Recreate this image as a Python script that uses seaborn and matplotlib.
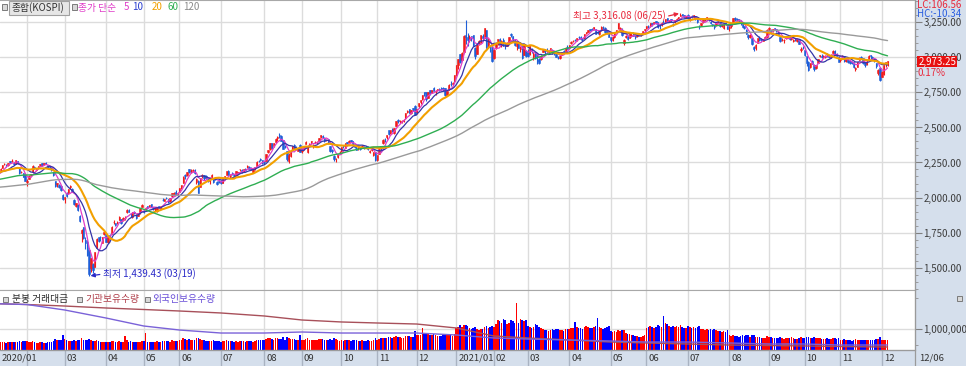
import numpy as np
import pandas as pd
import matplotlib
matplotlib.use("Agg")
import matplotlib.pyplot as plt
import matplotlib.patches as mpatches
import matplotlib.lines as mlines
import matplotlib.transforms as mtransforms
import seaborn as sns

# ---------------- DATA ----------------
# 2019 closes (Jun 20 - Dec 30, 2019) used only to warm up the moving averages
warmup_closes = [
    2131, 2125, 2121, 2122, 2134, 2130, 2130,
    2129, 2122, 2108, 2097, 2110, 2064, 2052, 2058, 2086, 2086, 2083, 2091, 2072, 2094, 2096, 2093, 2101, 2074, 2066, 2063, 2038, 2029, 2024,
    2017, 1998, 1946, 1917, 1909, 1920, 1943, 1925, 1938, 1927, 1948, 1960, 1964, 1955, 1948, 1916, 1948, 1936, 1951, 1967, 1967,
    1969, 1965, 1988, 2004, 2010, 2009, 2032, 2049, 2062, 2070, 2091, 2080, 2101, 2091, 2097, 2063, 2074, 2072, 2063,
    2031, 2020, 2047, 2046, 2045, 2082, 2084, 2068, 2077, 2083, 2061, 2085, 2088, 2091, 2094, 2093, 2080, 2092, 2083, 2086, 2083,
    2100, 2130, 2144, 2142, 2137, 2140, 2121, 2140, 2139, 2160, 2162, 2160, 2125, 2122, 2101, 2125, 2121, 2101, 2087, 2093, 2087,
    2084, 2068, 2060, 2081, 2085, 2099, 2105, 2137, 2170, 2168, 2165, 2196, 2203, 2195, 2190, 2204, 2197, 2197, 2204, 2197,
]

# daily sessions per month: (open, high, low, close, trading value in thousands)
k2020_01 = [(2201,2202,2171,2175,340),(2193,2203,2165,2176,380),(2154,2164,2149,2155,360),(2166,2181,2164,2176,330),(2163,2164,2137,2151,420),
            (2180,2193,2176,2186,390),(2197,2210,2192,2206,370),(2211,2230,2208,2229,360),(2237,2248,2234,2238,400),(2235,2237,2217,2230,350),
            (2232,2248,2227,2248,370),(2258,2262,2245,2250,360),(2260,2277,2255,2262,380),(2245,2251,2232,2239,400),(2236,2268,2236,2267,380),
            (2258,2260,2240,2246,390),(2213,2214,2165,2176,430),(2184,2190,2175,2185,390),(2172,2178,2143,2148,420),(2160,2166,2119,2119,410)]
k2020_02 = [(2112,2130,2085,2118,430),(2133,2160,2129,2157,400),(2161,2170,2150,2165,380),(2182,2229,2180,2227,410),(2216,2222,2205,2212,370),
            (2199,2205,2192,2201,340),(2208,2224,2207,2223,350),(2229,2240,2226,2238,360),(2244,2244,2226,2233,370),(2237,2245,2232,2243,350),
            (2246,2250,2237,2242,330),(2233,2235,2205,2208,380),(2215,2225,2207,2211,360),(2214,2218,2189,2195,390),(2182,2185,2150,2162,420),
            (2120,2120,2074,2079,520),(2096,2107,2077,2103,460),(2091,2095,2069,2076,480),(2082,2090,2048,2054,500),(2021,2024,1980,1987,720)]
k2020_03 = [(1987,2007,1958,2002,520),(2034,2038,2005,2014,480),(2031,2062,2023,2059,450),(2075,2089,2062,2085,430),(2064,2070,2036,2040,420),
            (1980,1988,1950,1954,480),(1940,1964,1935,1962,450),(1946,1955,1901,1908,470),(1867,1876,1822,1834,500),(1747,1775,1680,1771,560),
            (1786,1790,1701,1714,480),(1697,1720,1631,1672,500),(1685,1696,1580,1591,470),(1626,1627,1439.43,1457,530),(1498,1566,1466,1566,500),
            (1524,1532,1458,1482,430),(1505,1610,1502,1609,450),(1643,1711,1639,1704,480),(1716,1719,1681,1686,420),(1718,1726,1690,1717,400),
            (1678,1717,1675,1717,380),(1739,1763,1729,1754,390)]
k2020_04 = [(1737,1747,1684,1685,400),(1681,1724,1673,1724,390),(1731,1743,1718,1725,370),(1741,1793,1740,1791,420),(1822,1838,1810,1823,440),
            (1816,1818,1793,1807,400),(1823,1831,1808,1825,390),(1840,1866,1838,1860,410),(1847,1850,1813,1819,380),(1837,1858,1833,1857,400),
            (1853,1866,1838,1857,670),(1893,1915,1887,1914,480),(1912,1916,1896,1898,400),(1881,1888,1860,1879,420),(1861,1897,1855,1896,390),
            (1895,1904,1882,1889,380),(1878,1881,1848,1855,400),(1868,1892,1865,1889,370),(1897,1923,1882,1922,390),(1934,1954,1933,1947,410)]
k2020_05 = [(1906,1910,1886,1895,420),(1915,1929,1912,1928,810),(1939,1942,1920,1928,400),(1936,1947,1932,1945,380),(1951,1955,1931,1935,390),
            (1929,1932,1910,1922,400),(1918,1935,1907,1924,380),(1905,1930,1894,1924,420),(1939,1942,1922,1927,370),(1921,1938,1919,1937,380),
            (1983,1996,1975,1980,450),(1976,1991,1973,1989,420),(2000,2004,1991,1998,430),(1987,1988,1962,1970,410),(1976,1996,1970,1993,400),
            (2010,2032,2006,2029,460),(2028,2038,2015,2031,440),(2036,2056,2020,2028,450),(2026,2037,2008,2029,430)]
k2020_06 = [(2040,2067,2036,2065,460),(2072,2088,2063,2087,470),(2106,2150,2102,2147,560),(2162,2170,2132,2151,520),(2164,2183,2156,2181,500),
            (2200,2202,2172,2184,510),(2187,2205,2178,2188,470),(2187,2200,2181,2195,480),(2199,2203,2170,2176,490),(2108,2140,2098,2132,570),
            (2121,2126,2030,2030,560),(2077,2140,2077,2138,520),(2151,2166,2137,2161,480),(2158,2160,2128,2141,460),(2150,2162,2133,2141,450),
            (2132,2140,2112,2126,430),(2116,2131,2099,2131,440),(2143,2165,2142,2161,450),(2133,2140,2105,2112,470),(2136,2147,2125,2134,420),
            (2114,2117,2088,2093,450),(2117,2122,2101,2108,420)]
k2020_07 = [(2108,2123,2094,2106,400),(2106,2135,2103,2135,420),(2146,2155,2139,2152,410),(2163,2188,2162,2187,460),(2191,2195,2159,2164,440),
            (2155,2167,2142,2162,430),(2174,2180,2161,2167,410),(2160,2166,2145,2150,400),(2163,2189,2160,2186,420),(2178,2185,2168,2183,400),
            (2200,2207,2190,2201,450),(2196,2200,2176,2183,420),(2190,2203,2184,2201,410),(2204,2210,2190,2198,400),(2215,2230,2212,2228,440),
            (2221,2228,2203,2207,420),(2213,2215,2195,2200,410),(2181,2203,2176,2200,400),(2209,2220,2199,2217,430),(2224,2258,2222,2256,500),
            (2264,2268,2252,2263,480),(2276,2279,2258,2267,470),(2265,2270,2240,2249,460)]
k2020_08 = [(2259,2263,2240,2251,460),(2262,2313,2260,2311,520),(2323,2342,2315,2342,560),(2344,2386,2342,2386,570),(2386,2388,2343,2351,530),
            (2368,2388,2358,2386,500),(2394,2424,2388,2418,550),(2427,2438,2405,2432,560),(2448,2459,2425,2437,540),(2441,2443,2401,2407,520),
            (2410,2411,2345,2348,600),(2363,2376,2354,2360,500),(2329,2334,2261,2274,620),(2261,2321,2245,2304,560),(2297,2334,2286,2329,520),
            (2347,2369,2340,2369,540),(2378,2380,2346,2353,510),(2356,2370,2338,2344,500),(2334,2357,2329,2353,490),(2372,2379,2323,2326,720)]
k2020_09 = [(2330,2350,2321,2349,500),(2352,2365,2341,2364,480),(2383,2400,2381,2395,520),(2322,2370,2320,2368,560),(2378,2387,2369,2384,470),
            (2393,2402,2384,2401,480),(2366,2382,2356,2375,500),(2393,2406,2386,2396,490),(2393,2403,2384,2396,460),(2404,2428,2402,2427,520),
            (2434,2449,2425,2443,540),(2441,2445,2424,2435,510),(2425,2430,2398,2406,500),(2410,2420,2404,2412,470),(2418,2419,2382,2389,480),
            (2366,2368,2324,2333,540),(2340,2348,2317,2333,500),(2297,2302,2263,2272,560),(2274,2285,2254,2278,520),(2287,2311,2280,2308,480),
            (2325,2330,2315,2327,450)]
k2020_10 = [(2333,2358,2325,2358,460),(2372,2378,2356,2365,450),(2352,2389,2350,2386,480),(2394,2398,2380,2391,460),(2397,2409,2393,2403,480),
            (2410,2412,2394,2403,450),(2400,2405,2372,2380,470),(2382,2383,2355,2361,480),(2357,2369,2340,2341,470),(2351,2366,2340,2358,450),
            (2350,2360,2338,2347,440),(2355,2372,2352,2370,460),(2358,2366,2344,2355,450),(2362,2369,2353,2360,430),(2362,2365,2336,2343,460),
            (2328,2337,2317,2330,450),(2340,2350,2329,2345,440),(2302,2328,2294,2326,480),(2322,2322,2264,2267,560)]
k2020_11 = [(2267,2305,2263,2300,500),(2313,2343,2310,2343,520),(2370,2370,2329,2357,560),(2386,2415,2379,2413,580),(2418,2423,2398,2416,560),
            (2432,2449,2415,2447,570),(2479,2479,2447,2452,600),(2459,2485,2450,2485,610),(2492,2495,2469,2475,580),(2464,2497,2455,2494,600),
            (2514,2543,2508,2543,650),(2552,2563,2531,2545,620),(2545,2553,2534,2547,600),(2539,2552,2531,2547,580),(2544,2559,2541,2553,590),
            (2565,2602,2561,2602,680),(2610,2626,2600,2617,690),(2633,2635,2600,2601,650),(2601,2626,2596,2625,640),(2637,2640,2615,2633,630),
            (2651,2661,2591,2591,900)]
k2020_12 = [(2612,2635,2598,2634,700),(2651,2675,2636,2675,720),(2681,2697,2665,2696,700),(2701,2731,2693,2731,1050),(2750,2752,2727,2745,760),
            (2751,2754,2690,2700,780),(2714,2755,2712,2755,760),(2767,2769,2731,2746,730),(2752,2771,2744,2770,720),(2781,2790,2762,2762,740),
            (2755,2768,2734,2756,700),(2768,2776,2757,2772,690),(2775,2784,2759,2771,680),(2781,2787,2765,2772,680),(2782,2787,2762,2778,700),
            (2779,2782,2726,2733,740),(2729,2762,2722,2759,720),(2770,2812,2766,2806,760),(2812,2834,2794,2808,720),(2812,2824,2801,2820,690),
            (2830,2878,2828,2873,760)]
k2021_01 = [(2874,2946,2869,2944,1050),(2943,2990,2921,2990,1100),(3027,3027,2961,2968,1190),(2980,3036,2979,3031,1100),(3040,3161,3040,3152,1190),
            (3161,3266,3096,3148,1190),(3145,3175,3085,3125,1150),(3128,3162,3111,3148,1050),(3150,3154,3121,3149,1000),(3158,3162,3085,3085,1050),
            (3070,3072,2988,3013,1100),(3028,3096,3022,3092,1000),(3101,3122,3091,3114,950),(3134,3160,3106,3160,1000),(3153,3165,3128,3140,980),
            (3140,3209,3136,3208,1100),(3193,3194,3067,3069,1150),(3089,3136,3072,3122,1050),(3072,3083,3042,3069,1100),(3063,3079,2969,2976,1150)]
k2021_02 = [(2996,3059,2988,3056,1100),(3075,3105,3058,3096,1250),(3117,3129,3090,3129,1430),(3133,3136,3081,3087,1380),(3094,3125,3074,3120,1300),
            (3128,3138,3081,3091,1480),(3099,3106,3063,3084,1430),(3085,3107,3080,3100,1250),(3113,3147,3107,3147,1300),(3165,3175,3144,3163,1430),
            (3150,3152,3120,3133,1380),(3128,3130,3084,3086,1300),(3079,3110,3056,3107,2240),(3109,3112,3067,3070,1300),(3061,3083,3039,3070,1480),
            (3080,3083,2988,2995,1430),(3020,3099,3016,3099,1400),(3044,3051,3003,3013,1430)]
k2021_03 = [(3043,3063,3003,3012,1150),(3022,3082,3014,3082,1100),(3058,3067,3029,3043,1050),(3006,3037,2985,3026,1100),(3036,3042,2992,2996,1240),
            (2984,3024,2950,2976,1190),(2992,2994,2950,2958,1100),(2987,3014,2980,3013,1050),(3040,3060,3038,3054,1000),(3051,3057,3028,3045,950),
            (3051,3067,3040,3048,950),(3040,3048,3031,3047,900),(3062,3068,3052,3066,950),(3055,3059,3025,3039,1000),(3040,3048,3020,3035,950),
            (3037,3045,3004,3004,1000),(2997,3013,2992,2996,1000),(2994,3019,2988,3008,950),(3018,3042,3017,3041,950),(3043,3052,3030,3036,900),
            (3040,3072,3033,3071,1000),(3073,3087,3058,3061,1000)]
k2021_04 = [(3067,3087,3062,3087,1000),(3101,3114,3094,3112,1050),(3116,3126,3107,3120,1050),(3128,3130,3114,3127,1330),(3128,3140,3120,3137,1100),
            (3147,3153,3131,3143,1050),(3146,3153,3125,3131,1050),(3136,3140,3115,3135,1000),(3137,3170,3135,3169,1100),(3173,3183,3165,3182,1150),
            (3185,3197,3180,3194,1100),(3201,3205,3188,3198,1050),(3206,3212,3195,3198,1050),(3200,3220,3195,3220,1100),(3203,3206,3166,3171,1150),
            (3182,3188,3165,3177,1520),(3164,3190,3161,3186,1100),(3196,3221,3192,3217,1050),(3220,3226,3206,3215,1000),(3211,3216,3175,3181,1050),
            (3194,3195,3168,3174,1100),(3168,3175,3147,3147,1150)]
k2021_05 = [(3146,3149,3111,3127,900),(3125,3150,3118,3147,850),(3146,3178,3140,3178,900),(3189,3197,3180,3197,850),(3211,3249,3206,3249,950),
            (3204,3215,3188,3209,900),(3198,3207,3151,3161,950),(3104,3134,3091,3122,950),(3145,3160,3136,3153,800),(3155,3159,3124,3134,750),
            (3141,3178,3136,3173,750),(3154,3172,3143,3162,700),(3176,3180,3150,3156,700),(3154,3161,3131,3144,650),(3152,3167,3144,3163,650),
            (3171,3174,3158,3165,620),(3164,3175,3152,3165,620),(3175,3192,3170,3188,650),(3199,3204,3182,3204,700)]
k2021_06 = [(3213,3226,3203,3221,1050),(3226,3229,3207,3224,1100),(3226,3249,3219,3248,1150),(3245,3248,3228,3240,1100),(3247,3256,3237,3253,1050),
            (3257,3259,3236,3247,1100),(3254,3256,3211,3216,1200),(3226,3236,3204,3224,1150),(3234,3250,3228,3249,1100),(3255,3268,3248,3252,1620),
            (3254,3278,3250,3278,1300),(3280,3283,3255,3264,1250),(3255,3268,3252,3264,1150),(3273,3276,3256,3267,1100),(3241,3248,3225,3240,1150),
            (3250,3266,3247,3264,1100),(3269,3284,3264,3276,1150),(3281,3292,3276,3286,1100),(3298,3316.08,3295,3302,1200),(3310,3313,3294,3301,1100),
            (3300,3304,3281,3286,1050),(3289,3298,3283,3296,1050)]
k2021_07 = [(3305,3307,3276,3282,1150),(3272,3284,3262,3281,1100),(3297,3300,3280,3294,1050),(3292,3305,3284,3305,1100),(3293,3297,3270,3285,1050),
            (3289,3290,3243,3252,1100),(3219,3232,3204,3217,1150),(3231,3249,3223,3246,1000),(3253,3275,3249,3271,1000),(3264,3275,3258,3265,950),
            (3271,3290,3266,3286,1000),(3279,3280,3262,3276,950),(3255,3263,3236,3244,1000),(3239,3240,3222,3232,950),(3233,3237,3205,3216,1000),
            (3230,3254,3225,3250,950),(3250,3262,3244,3254,900),(3244,3247,3219,3224,900),(3226,3237,3220,3233,850),(3213,3238,3202,3237,900),
            (3249,3256,3232,3242,850),(3225,3228,3200,3202,950)]
k2021_08 = [(3209,3225,3191,3223,700),(3225,3237,3213,3237,650),(3245,3281,3240,3280,720),(3285,3288,3262,3276,680),(3275,3285,3262,3270,650),
            (3272,3275,3251,3260,620),(3263,3268,3235,3243,650),(3243,3245,3210,3220,700),(3221,3228,3200,3208,680),(3199,3203,3166,3171,720),
            (3157,3165,3130,3143,700),(3146,3168,3140,3158,620),(3138,3140,3089,3097,720),(3076,3083,3044,3060,720),(3067,3093,3056,3090,600),
            (3102,3140,3100,3138,620),(3142,3150,3118,3128,600),(3133,3138,3118,3128,580),(3120,3135,3115,3133,560),(3141,3150,3133,3144,580),
            (3146,3200,3140,3199,680)]
k2021_09 = [(3206,3214,3192,3207,620),(3199,3204,3167,3175,600),(3188,3203,3183,3201,580),(3210,3212,3193,3203,550),(3203,3206,3180,3187,560),
            (3180,3188,3159,3162,580),(3144,3146,3108,3114,620),(3125,3137,3118,3127,560),(3122,3134,3104,3127,540),(3141,3153,3131,3148,560),
            (3152,3162,3143,3153,580),(3157,3159,3125,3130,560),(3131,3145,3126,3140,620),(3114,3129,3110,3127,560),(3129,3138,3119,3125,540),
            (3115,3140,3107,3133,540),(3130,3133,3096,3097,580),(3050,3075,3040,3060,620),(3070,3082,3059,3068,560)]
k2021_10 = [(3053,3055,3013,3019,580),(3008,3010,2940,2962,620),(2968,2978,2900,2908,620),(2930,2960,2925,2959,580),(2978,2983,2950,2956,560),
            (2945,2950,2902,2916,600),(2923,2944,2917,2944,560),(2963,2989,2960,2988,560),(3008,3019,3001,3015,580),(3011,3022,2994,3006,540),
            (3004,3020,2998,3013,540),(3005,3017,2996,3013,520),(3022,3034,3003,3007,560),(3008,3017,2998,3006,520),(3005,3024,2998,3020,540),
            (3033,3050,3031,3049,580),(3047,3053,3020,3025,560),(3028,3029,3008,3009,540),(3006,3007,2967,2970,580)]
k2021_11 = [(2980,2995,2970,2988,480),(3001,3020,2995,3013,500),(3007,3010,2970,2975,520),(2977,2995,2970,2983,480),(2985,2990,2962,2969,500),
            (2978,2982,2955,2960,460),(2966,2975,2955,2963,450),(2968,2970,2925,2930,500),(2918,2932,2905,2924,520),(2935,2970,2933,2968,480),
            (2983,3004,2980,2999,500),(3004,3013,2990,2998,480),(2996,2997,2955,2962,500),(2964,2966,2935,2947,480),(2953,2980,2945,2971,460),
            (2983,3016,2980,3013,500),(3016,3020,2990,3009,480),(3005,3010,2985,2994,460),(2990,2995,2969,2980,460),(2960,2962,2928,2936,520),
            (2889,2920,2878,2909,540),(2925,2935,2830,2839,620)]
k2021_12 = [(2860,2900,2858,2899,500),(2882,2945,2878,2945,480),(2955,2968,2930,2968,470),(2950,2978,2941,2973.25,460)]

month_labels = ["2020/01", "02", "03", "04", "05", "06", "07", "08", "09", "10", "11", "12",
                "2021/01", "02", "03", "04", "05", "06", "07", "08", "09", "10", "11", "12"]
month_data = [k2020_01, k2020_02, k2020_03, k2020_04, k2020_05, k2020_06, k2020_07, k2020_08,
              k2020_09, k2020_10, k2020_11, k2020_12, k2021_01, k2021_02, k2021_03, k2021_04,
              k2021_05, k2021_06, k2021_07, k2021_08, k2021_09, k2021_10, k2021_11, k2021_12]

# holdings lines of the lower panel, sampled at each month's first session and the last session
inst_holdings = [77.5, 75.8, 73.3, 70.0, 67.5, 65.0, 61.7, 56.7, 50.0, 46.7, 45.0, 43.3,
                 36.7, 23.3, 20.0, 16.7, 13.3, 11.7, 10.0, 8.3, 7.5, 6.7, 5.8, 5.0, 5.0]
foreign_holdings = [77.5, 75.8, 66.7, 53.3, 40.0, 33.3, 28.3, 28.3, 30.0, 28.3, 28.3, 28.3,
                    25.0, 20.0, 18.3, 16.7, 15.0, 13.3, 13.3, 11.7, 10.0, 10.0, 8.3, 8.3, 8.3]

price_levels = [1500, 1750, 2000, 2250, 2500, 2750, 3000, 3250]
ma_windows = [5, 10, 20, 60, 120]

# ---------------- BUILD ----------------
rows, month_starts = [], []
for arr in month_data:
    month_starts.append(len(rows))
    rows.extend(arr)
df = pd.DataFrame(rows, columns=["open", "high", "low", "close", "value"])
df["idx"] = np.arange(len(df))
all_close = pd.Series(list(warmup_closes) + df["close"].tolist(), dtype=float)
for n in ma_windows:
    df[f"ma{n}"] = all_close.rolling(n).mean().iloc[len(warmup_closes):].values
up = df["close"] >= df["open"]
hold_x = month_starts + [len(df) - 1]

# ---------------- STYLE ----------------
sns.set_style("white")
plt.rcParams["font.family"] = ["Noto Sans CJK KR", "DejaVu Sans"]
plt.rcParams["axes.unicode_minus"] = False

W, H = 966, 366
BAND = "#d5dfec"
fig = plt.figure(figsize=(W / 100, H / 100), dpi=100, facecolor=BAND)

def fx(px):
    return px / W

def fy(py):
    return 1 - py / H

XL = (5.68, 491.6)
ax_p = fig.add_axes([0, fy(290), 915 / W, 290 / H])
ax_v = fig.add_axes([0, fy(350), 915 / W, 60 / H])
ax_h = fig.add_axes([0, fy(350), 915 / W, 60 / H])
for a in (ax_p, ax_v):
    a.set_facecolor("white")
    for s in a.spines.values():
        s.set_color("#a8a8a8")
        s.set_linewidth(0.8)
    a.spines["left"].set_visible(False)

GRID = "#dcdcdc"
for ms in month_starts:
    ax_p.axvline(ms, color=GRID, lw=1, zorder=0)
    ax_v.axvline(ms, color=GRID, lw=1, zorder=0)
for lv in price_levels:
    ax_p.axhline(lv, color=GRID, lw=1, zorder=0)
ax_v.axhline(1_000_000, color=GRID, lw=1, zorder=0)

# candles
RED, BLUE = "#f01c1c", "#1f5fd8"
ccols = np.where(up, RED, BLUE)
ax_p.vlines(df["idx"], df["low"], df["high"], colors=ccols, lw=0.8, zorder=2)
body_lo = np.minimum(df["open"], df["close"])
body_h = np.maximum((df["close"] - df["open"]).abs(), 1.0)
ax_p.bar(df["idx"], body_h, bottom=body_lo, width=0.72, color=ccols,
         edgecolor=ccols, linewidth=0.4, zorder=3)

# moving averages
ma_style = {5: ("#e03cc8", 0.9), 10: ("#3434a8", 0.9), 20: ("#f2a000", 1.5),
            60: ("#2fae52", 1.0), 120: ("#9a9a9a", 1.0)}
for n in ma_windows:
    col, lw = ma_style[n]
    sns.lineplot(x=df["idx"], y=df[f"ma{n}"], ax=ax_p, color=col, linewidth=lw,
                 legend=False, zorder=4)
ax_p.set_xlim(XL)
ax_p.set_ylim(1339.6, 3410.2)
ax_p.set_xlabel("")
ax_p.set_ylabel("")
ax_p.set_xticks([])
ax_p.yaxis.tick_right()
ax_p.set_yticks(price_levels)
ax_p.set_yticklabels([f"{v:,.2f}" for v in price_levels])
ax_p.set_yticks(np.arange(1350, 3401, 50), minor=True)
ax_p.tick_params(axis="y", which="major", direction="out", length=5, width=0.8,
                 color="#808080", labelsize=7, labelcolor="#3c3c3c", pad=1)
ax_p.tick_params(axis="y", which="minor", direction="out", length=2.5, width=0.6, color="#909090")

# high / low annotations
hi_i = int(df["high"].idxmax())
lo_i = int(df["low"].idxmin())
ax_p.annotate("최고 3,316.08 (06/25)", xy=(hi_i, df["high"][hi_i]), xytext=(-15, -3.5),
              textcoords="offset pixels", ha="right", va="center", fontsize=7, color="#e8283c",
              arrowprops=dict(arrowstyle="-|>", color="#e8283c", lw=0.9, mutation_scale=6,
                              shrinkA=0, shrinkB=1, relpos=(1, 0.5)), zorder=6)
ax_p.annotate("최저 1,439.43 (03/19)", xy=(lo_i, df["low"][lo_i]), xytext=(14, 2),
              textcoords="offset pixels", ha="left", va="center", fontsize=7, color="#2a2ac8",
              arrowprops=dict(arrowstyle="-|>", color="#2a2ac8", lw=0.9, mutation_scale=6,
                              shrinkA=0, shrinkB=1, relpos=(0, 0.5)), zorder=6)

# volume
vcols = np.where(up, "#ff0000", "#0000ff")
ax_v.bar(df["idx"], df["value"] * 1000, width=0.85, color=vcols, linewidth=0, zorder=2)
ax_v.set_xlim(XL)
ax_v.set_ylim(0, 2.86e6)
ax_v.set_xticks([])
ax_v.yaxis.tick_right()
ax_v.set_yticks([1_000_000])
ax_v.set_yticklabels(["1,000,000"])
ax_v.set_yticks([250_000, 2_500_000], minor=True)
ax_v.tick_params(axis="y", which="major", direction="out", length=5, width=0.8,
                 color="#808080", labelsize=7, labelcolor="#3c3c3c", pad=1)
ax_v.tick_params(axis="y", which="minor", direction="out", length=2.5, width=0.6, color="#909090")

# holdings lines
sns.lineplot(x=hold_x, y=inst_holdings, ax=ax_h, color="#a8505a", linewidth=1.0, legend=False)
sns.lineplot(x=hold_x, y=foreign_holdings, ax=ax_h, color="#7a62d8", linewidth=1.0, legend=False)
ax_h.set_xlim(XL)
ax_h.set_ylim(0, 100)
ax_h.set_axis_off()

# date band
bt = mtransforms.blended_transform_factory(ax_v.transData, fig.transFigure)
for k, (ms, lab) in enumerate(zip(month_starts, month_labels)):
    fig.add_artist(mlines.Line2D([ms, ms], [fy(350), fy(366)], transform=bt, color="#a9b3c2", lw=1))
    if k == 0:
        fig.text(fx(2), fy(358.5), lab, ha="left", va="center", fontsize=6.8, color="#333333")
        continue
    if k == 1:
        continue
    fig.text(ms + 1.0, fy(358.5), lab, transform=bt, ha="left", va="center",
             fontsize=6.8, color="#333333")
fig.text(fx(919), fy(358.5), "12/06", ha="left", va="center", fontsize=6.8, color="#333333")
fig.add_artist(mlines.Line2D([fx(914.5), fx(914.5)], [0, 1], color="#9a9a9a", lw=0.9))
fig.add_artist(mlines.Line2D([0, fx(914.5)], [fy(350), fy(350)], color="#9a9a9a", lw=0.9))

# legends (top-left of each panel)
def icon(px, py):
    fig.add_artist(mpatches.Rectangle((fx(px), fy(py + 5)), 5 / W, 5 / H, transform=fig.transFigure,
                                      facecolor="#d8d8d8", edgecolor="#7a7a7a", lw=0.7))

icon(2, 4.5)
fig.add_artist(mpatches.Rectangle((fx(8.5), fy(15)), 60 / W, 14 / H, transform=fig.transFigure,
                                  facecolor="#e6e6e6", edgecolor="#a0a0a0", lw=0.8))
fig.text(fx(11.5), fy(7.5), "종합(KOSPI)", ha="left", va="center", fontsize=7, color="#333333")
icon(71.5, 4.5)
leg_items = [(78, "종가 단순", "#e03cc8"), (124, "5", "#e03cc8"), (132, "10", "#2b3fd0"),
             (152, "20", "#f2a000"), (167, "60", "#2fae52"), (183, "120", "#8a8a8a")]
for px, txt, col in leg_items:
    fig.text(fx(px), fy(7.5), txt, ha="left", va="center", fontsize=7, color=col)

icon(3, 296.5)
fig.text(fx(12), fy(299), "분봉 거래대금", ha="left", va="center", fontsize=7, color="#2a2a2a")
icon(77, 296.5)
fig.text(fx(85), fy(299), "기관보유수량", ha="left", va="center", fontsize=7, color="#b0404c")
icon(145, 296.5)
fig.text(fx(152), fy(299), "외국인보유수량", ha="left", va="center", fontsize=7, color="#6a50d8")
icon(957, 295.5)

# right-side status labels
fig.text(fx(917), fy(5), "LC:106.56", ha="left", va="center", fontsize=7, color="#e8283c")
fig.text(fx(917), fy(14), "HC:-10.34", ha="left", va="center", fontsize=7, color="#2c5fe0")
fig.add_artist(mpatches.Rectangle((fx(917), fy(66.5)), 40 / W, 10 / H, transform=fig.transFigure,
                                  facecolor="#e81010", edgecolor="none"))
fig.text(fx(919), fy(61.5), f"{df['close'].iloc[-1]:,.2f}", ha="left", va="center",
         fontsize=7, color="white", zorder=5)
fig.text(fx(918), fy(72.5), "0.17%", ha="left", va="center", fontsize=7, color="#e8283c")

fig.savefig("out.png", dpi=100, facecolor=BAND)
